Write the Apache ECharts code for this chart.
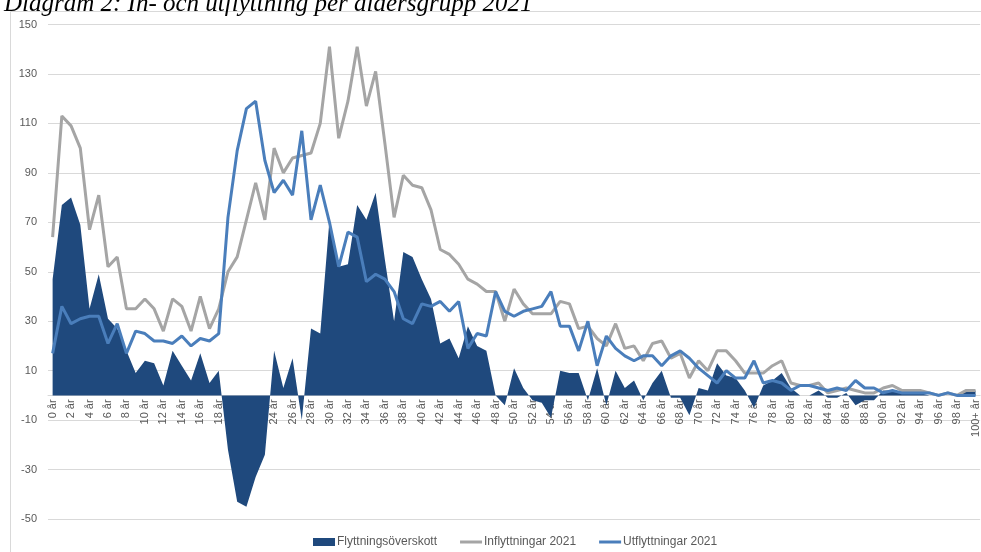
<!DOCTYPE html>
<html>
<head>
<meta charset="utf-8">
<script src="https://cdn.jsdelivr.net/npm/echarts@6/dist/echarts.min.js"></script>
<style>
html,body{margin:0;padding:0;background:#fff;}
#chart{width:981px;height:552px;}
</style>
</head>
<body>
<div id="chart"></div>
<script>
// Categories: 0 år ... 99 år, 100+ år
const ages = [];
for (let i = 0; i < 100; i++) ages.push(i + ' år');
ages.push('100+ år');

const inflytt = [
  64,113,109,100,67,81,52,56,35,35,
  39,35,26,39,36,26,40,27,35,50,
  56,71,86,71,100,90,96,97,98,110,
  141,104,119,141,117,131,102,72,89,85,
  84,75,59,57,53,47,45,42,42,30,
  43,37,33,33,33,38,37,27,28,23,
  20,29,19,20,14,21,22,15,17,7,
  14,10,18,18,14,9,9,9,12,14,
  5,4,4,5,1,2,3,2,1,1,
  3,4,2,2,2,1,0,1,0,2,
  2
];
const utflytt = [
  17,36,29,31,32,32,21,29,17,26,
  25,22,22,21,24,20,23,22,25,72,
  99,116,119,95,82,87,81,107,71,85,
  70,52,66,64,46,49,47,42,31,29,
  37,36,38,34,38,19,25,24,42,34,
  32,34,35,36,42,28,28,18,30,12,
  24,19,16,14,16,16,12,16,18,15,
  11,8,5,10,7,7,14,5,6,5,
  2,4,4,3,2,3,2,6,3,3,
  1,2,1,1,1,1,0,1,0,0,
  0
];
const overskott = [
  47,77,80,69,35,49,31,27,18,9,
  14,13,4,18,12,6,17,5,10,-22,
  -43,-45,-33,-24,18,3,15,-10,27,25,
  71,52,53,77,71,82,55,30,58,56,
  47,39,21,23,15,28,20,18,0,-4,
  11,3,-2,-3,-9,10,9,9,-2,11,
  -4,10,3,6,-2,5,10,-1,-1,-8,
  3,2,13,8,7,2,-5,4,6,9,
  3,0,0,2,-1,-1,1,-4,-2,-2,
  2,2,1,1,1,0,0,0,0,2,
  2
];

const yMin = -50, yMax = 150, yStep = 20;
const titleText = 'Diagram 2: In- och utflyttning per åldersgrupp 2021';
const seriesNames = ['Flyttningsöverskott', 'Inflyttningar 2021', 'Utflyttningar 2021'];

const chart = echarts.init(document.getElementById('chart'), null, {renderer: 'canvas'});
const labelColor = '#595959';
const font = '"Liberation Sans", Arial, sans-serif';
const gridTop = 24.5, gridHeight = 494.5;
// distance from bottom of the plot to the zero line
const zeroOffset = gridHeight * (0 - yMin) / (yMax - yMin);

chart.setOption({
  animation: false,
  backgroundColor: '#ffffff',
  title: {
    text: titleText,
    left: -1,
    top: -13,
    textStyle: {
      fontFamily: '"Liberation Serif", "DejaVu Serif", serif',
      fontStyle: 'italic',
      fontWeight: 'normal',
      fontSize: 25,
      color: '#000000'
    }
  },
  graphic: [{
    type: 'rect',
    z: -10,
    silent: true,
    shape: {x: 10.5, y: 11.5, width: 1000, height: 600},
    style: {fill: 'none', stroke: '#d9d9d9', lineWidth: 1}
  }],
  legend: {
    bottom: 4,
    left: 313,
    padding: 0,
    itemGap: 23,
    itemWidth: 22,
    itemHeight: 8,
    textStyle: {color: labelColor, fontSize: 12, fontFamily: font, padding: [0, 0, 0, -3]},
    data: [
      {name: seriesNames[0], icon: 'path://M0,0L22,0L22,8L0,8Z'},
      {name: seriesNames[1], icon: 'path://M0,0L22,0L22,3L0,3Z'},
      {name: seriesNames[2], icon: 'path://M0,0L22,0L22,3L0,3Z'}
    ]
  },
  grid: {
    left: 48,
    top: gridTop,
    width: 934,
    height: gridHeight,
    containLabel: false
  },
  xAxis: {
    type: 'category',
    data: ages,
    boundaryGap: true,
    position: 'bottom',
    offset: -zeroOffset,
    axisLine: {onZero: false, lineStyle: {color: '#d9d9d9', width: 1}},
    axisTick: {show: false},
    axisLabel: {
      interval: 1,
      rotate: 90,
      color: labelColor,
      fontSize: 11,
      fontFamily: font,
      margin: 4
    },
    splitLine: {show: false}
  },
  yAxis: {
    type: 'value',
    min: yMin,
    max: yMax,
    interval: yStep,
    axisLine: {show: false},
    axisTick: {show: false},
    axisLabel: {color: labelColor, fontSize: 11, fontFamily: font, margin: 11},
    splitLine: {lineStyle: {color: '#d9d9d9', width: 1}}
  },
  series: [
    {
      name: seriesNames[0],
      type: 'line',
      data: overskott,
      symbol: 'none',
      lineStyle: {width: 0},
      itemStyle: {color: '#1f497d'},
      areaStyle: {color: '#1f497d', opacity: 1, origin: 0},
      z: 1
    },
    {
      name: seriesNames[1],
      type: 'line',
      data: inflytt,
      symbol: 'none',
      lineStyle: {width: 3, color: '#a5a5a5'},
      itemStyle: {color: '#a5a5a5'},
      z: 2
    },
    {
      name: seriesNames[2],
      type: 'line',
      data: utflytt,
      symbol: 'none',
      lineStyle: {width: 3, color: '#4a7ebb'},
      itemStyle: {color: '#4a7ebb'},
      z: 3
    }
  ]
});
</script>
</body>
</html>
